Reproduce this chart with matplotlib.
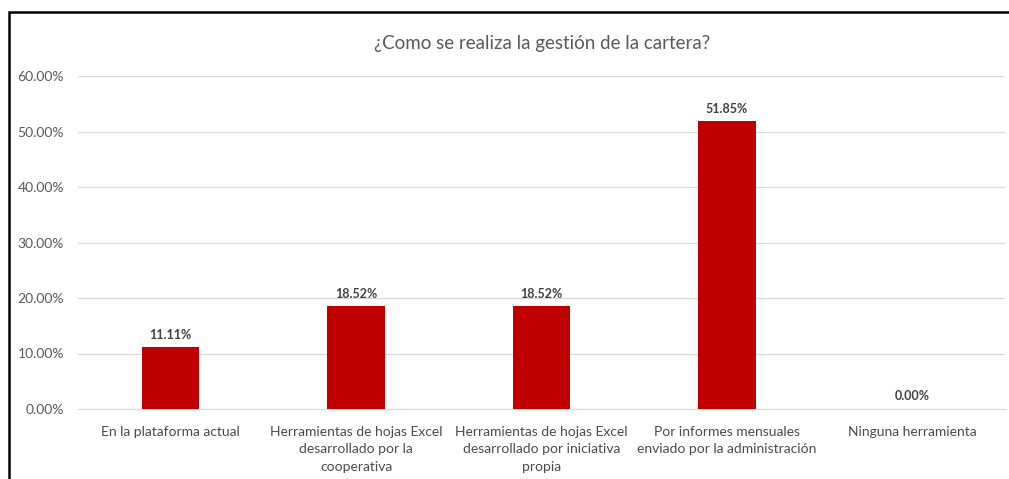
import matplotlib.pyplot as plt
import numpy as np
from matplotlib.patches import Rectangle

categories = [
    "En la plataforma actual",
    "Herramientas de hojas Excel\ndesarrollado por la\ncooperativa",
    "Herramientas de hojas Excel\ndesarrollado por iniciativa\npropia",
    "Por informes mensuales\nenviado por la administración",
    "Ninguna herramienta",
]
values = [0.1111, 0.1852, 0.1852, 0.5185, 0.0]
yticks = [0.0, 0.1, 0.2, 0.3, 0.4, 0.5, 0.6]

plt.rcParams['font.family'] = ['Lato', 'DejaVu Sans']

fig = plt.figure(figsize=(10.09, 4.79), dpi=100)
ax = fig.add_axes([78 / 1009, 70 / 479, 927 / 1009, 333 / 479])

x = np.arange(len(categories))
ax.bar(x, values, width=0.31, color='#C00000', zorder=3)

for xi, v in zip(x, values):
    ax.text(xi, v + 0.012, f"{v * 100:.2f}%", ha='center', va='bottom',
            fontsize=9, fontweight='bold', color='#404040')

ax.set_xlim(-0.5, len(categories) - 0.5)
ax.set_ylim(0, 0.6)
ax.set_yticks(yticks)
ax.set_yticklabels([f"{t * 100:.2f}%" for t in yticks], fontsize=10, color='#595959')
ax.set_xticks(x)
ax.set_xticklabels(categories, fontsize=10, color='#4a4a4a', linespacing=1.55)
ax.tick_params(axis='y', length=0, pad=10)
ax.tick_params(axis='x', length=0, pad=12)
ax.grid(axis='y', color='#d9d9d9', linewidth=0.9, zorder=0)
for s in ['top', 'right', 'left']:
    ax.spines[s].set_visible(False)
ax.spines['bottom'].set_color('#d9d9d9')

fig.text(542 / 1009, 1 - 43 / 479, "¿Como se realiza la gestión de la cartera?",
         ha='center', va='center', fontsize=13.5, color='#595959')

# outer frame of the chart box
fig.patches.append(Rectangle((9 / 1009, -0.05), 1.1, 1 - 12 / 479 + 0.05,
                             transform=fig.transFigure, fill=False,
                             edgecolor='black', linewidth=1.8))

fig.savefig("out.png", dpi=100)
